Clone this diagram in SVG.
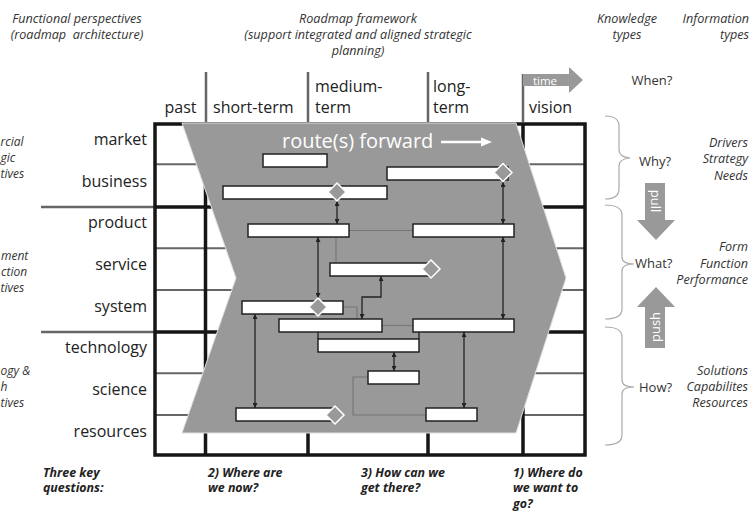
<svg xmlns="http://www.w3.org/2000/svg" width="753" height="511" viewBox="0 0 753 511">
  <style>
    text { font-family: "Open Sans", "Liberation Sans", sans-serif; fill: #222; }
    .hdr { font-size: 16px; }
    .row { font-size: 16px; text-anchor: end; }
    .it { font-size: 12.6px; font-style: italic; fill: #333; }
    .itr { font-size: 12.6px; font-style: italic; fill: #333; text-anchor: end; }
    .itl { font-size: 12px; font-style: italic; fill: #333; }
    .q { font-size: 13px; fill: #333; }
    .key { font-size: 12.4px; font-style: italic; font-weight: bold; fill: #222; }
    .wt { fill: #fff; }
    .thick { stroke: #151515; stroke-width: 3.5; fill: none; }
    .thin { stroke: #666; stroke-width: 2; fill: none; }
    .hline { stroke: #666; stroke-width: 2.5; fill: none; }
    .bar { fill: #fff; stroke: #222; stroke-width: 1.5; }
    .dia { fill: #999; stroke: #fff; stroke-width: 1.5; }
    .link { stroke: #222; stroke-width: 1.3; fill: none; }
    .arr { stroke: #222; stroke-width: 1.3; fill: none; marker-start: url(#ah); marker-end: url(#ah); }
    .soft { stroke: #777; stroke-width: 1.2; fill: none; }
    .brace { stroke: #aaa; stroke-width: 1.2; fill: none; }
  </style>
  <defs>
    <marker id="ah" viewBox="0 0 10 10" refX="10" refY="5" markerWidth="5" markerHeight="5" markerUnits="userSpaceOnUse" orient="auto-start-reverse">
      <path d="M0,0 L10,5 L0,10 z" fill="#222"/>
    </marker>
  </defs>

  <!-- titles -->
  <g id="titles">
    <text class="it" x="77" y="23" text-anchor="middle">Functional perspectives</text>
    <text class="it" x="77" y="39" text-anchor="middle">(roadmap&#160; architecture)</text>
    <text class="it" x="358" y="23" text-anchor="middle">Roadmap framework</text>
    <text class="it" x="358" y="39" text-anchor="middle">(support integrated and aligned strategic</text>
    <text class="it" x="358" y="55" text-anchor="middle">planning)</text>
    <text class="it" x="627" y="23" text-anchor="middle">Knowledge</text>
    <text class="it" x="627" y="39" text-anchor="middle">types</text>
    <text class="itr" x="749" y="23">Information</text>
    <text class="itr" x="749" y="39">types</text>
  </g>

  <!-- time header -->
  <g id="time-header">
    <line class="hline" x1="206" y1="72" x2="206" y2="122"/>
    <line class="hline" x1="308" y1="72" x2="308" y2="122"/>
    <line class="hline" x1="428" y1="72" x2="428" y2="122"/>
    <line class="hline" x1="523" y1="74" x2="523" y2="122"/>
    <polygon points="523,74 569,74 569,67 583,80 569,93 569,86 523,86" fill="#999"/>
    <text class="wt" x="545" y="84.5" font-size="11.5" text-anchor="middle">time</text>
    <text class="hdr" x="180.5" y="113" text-anchor="middle">past</text>
    <text class="hdr" x="213" y="113">short-term</text>
    <text class="hdr" x="315" y="92">medium-</text>
    <text class="hdr" x="315" y="113">term</text>
    <text class="hdr" x="433" y="92">long-</text>
    <text class="hdr" x="433" y="113">term</text>
    <text class="hdr" x="529" y="113">vision</text>
    <text class="q" x="652" y="85" text-anchor="middle">When?</text>
  </g>

  <!-- layer labels -->
  <g id="layers">
    <text class="row" x="147" y="145">market</text>
    <text class="row" x="147" y="187">business</text>
    <text class="row" x="147" y="228">product</text>
    <text class="row" x="147" y="270">service</text>
    <text class="row" x="147" y="312">system</text>
    <text class="row" x="147" y="353">technology</text>
    <text class="row" x="147" y="395">science</text>
    <text class="row" x="147" y="437">resources</text>
    <text class="itl" x="0.5" y="146">rcial</text>
    <text class="itl" x="0.5" y="162">gic</text>
    <text class="itl" x="0.5" y="178">tives</text>
    <text class="itl" x="1" y="260">ment</text>
    <text class="itl" x="1" y="276">ction</text>
    <text class="itl" x="0.5" y="292">tives</text>
    <text class="itl" x="0.5" y="375">ogy &amp;</text>
    <text class="itl" x="0.5" y="391">h</text>
    <text class="itl" x="0.5" y="407">tives</text>
    <line class="hline" x1="41" y1="207" x2="155" y2="207"/>
    <line class="hline" x1="41" y1="332" x2="155" y2="332"/>
  </g>

  <!-- roadmap grid -->
  <g id="grid">
    <line class="thin" x1="155" y1="164.3" x2="585" y2="164.3"/>
    <line class="thin" x1="155" y1="248.3" x2="585" y2="248.3"/>
    <line class="thin" x1="155" y1="290" x2="585" y2="290"/>
    <line class="thin" x1="155" y1="373.3" x2="585" y2="373.3"/>
    <line class="thin" x1="155" y1="415" x2="585" y2="415"/>
    <line class="thick" x1="155" y1="207" x2="585" y2="207"/>
    <line class="thick" x1="155" y1="332" x2="585" y2="332"/>
    <line class="thick" x1="205.5" y1="124" x2="205.5" y2="455"/>
    <line class="thick" x1="308" y1="124" x2="308" y2="455"/>
    <line class="thick" x1="428" y1="124" x2="428" y2="455"/>
    <line class="thick" x1="523" y1="124" x2="523" y2="455"/>
    <rect class="thick" x="155" y="124" width="430" height="331"/>
  </g>

  <!-- route forward chevron -->
  <g id="route">
    <polygon points="182,123 516,123 566,278 516,433 182,433 236,278" fill="#999" stroke="#dedede" stroke-width="1"/>
    <text class="wt" x="282" y="148" font-size="20">route(s) forward</text>
    <line x1="441" y1="142" x2="484" y2="142" stroke="#fff" stroke-width="2.7"/>
    <polygon points="481,137.5 492,142 481,146.5" fill="#fff"/>
  </g>

  <!-- connectors -->
  <g id="connectors">
    <path class="soft" d="M349,230.5 H413"/>
    <path class="soft" d="M336,237 V263"/>
    <path class="soft" d="M343,307 H357 V319"/>
    <path class="soft" d="M382,325.5 H413"/>
    <path class="soft" d="M368,377 H353 V415 H426"/>
    <path class="link" d="M318,332 V339"/>
    <path class="link" d="M419,332 V339"/>
    <path class="arr" d="M337,201 V224"/>
    <path class="arr" d="M503,182 V224"/>
    <path class="arr" d="M318,237 V298"/>
    <path class="arr" d="M381,276 V297 H362 V319"/>
    <path class="arr" d="M503,237 V319"/>
    <path class="arr" d="M255,314 V408"/>
    <path class="arr" d="M394,352 V371"/>
    <path class="arr" d="M464,332 V408"/>
  </g>

  <!-- activity bars -->
  <g id="bar-a"><rect class="bar" x="263" y="154" width="64" height="13"/></g>
  <g id="bar-b"><rect class="bar" x="387" y="167" width="121" height="13"/><polygon class="dia" points="503,163.5 512,172.5 503,181.5 494,172.5"/></g>
  <g id="bar-c"><rect class="bar" x="223" y="186" width="164" height="13"/><polygon class="dia" points="337,183 346,192 337,201 328,192"/></g>
  <g id="bar-d"><rect class="bar" x="248" y="224" width="101" height="13"/></g>
  <g id="bar-e"><rect class="bar" x="413" y="224" width="101" height="13"/></g>
  <g id="bar-f"><rect class="bar" x="330" y="263" width="100" height="13"/><polygon class="dia" points="431,260 440,269 431,278 422,269"/></g>
  <g id="bar-h"><rect class="bar" x="242" y="301" width="101" height="13"/><polygon class="dia" points="318,298 327,307 318,316 309,307"/></g>
  <g id="bar-g"><rect class="bar" x="279" y="319" width="103" height="13"/></g>
  <g id="bar-i"><rect class="bar" x="413" y="319" width="101" height="13"/></g>
  <g id="bar-j"><rect class="bar" x="318" y="339" width="101" height="13"/></g>
  <g id="bar-k"><rect class="bar" x="368" y="371" width="51" height="13"/></g>
  <g id="bar-l"><rect class="bar" x="236" y="408" width="96" height="13"/><polygon class="dia" points="335,406 344,415 335,424 326,415"/></g>
  <g id="bar-m"><rect class="bar" x="426" y="408" width="51" height="13"/></g>

  <!-- knowledge types -->
  <g id="why">
    <path class="brace" d="M605,116 Q619,116 619,126 V150 Q619,157 630,158 Q619,159 619,166 V189 Q619,199 605,199"/>
    <text class="q" x="639" y="166">Why?</text>
    <text class="itr" x="748" y="146.5">Drivers</text>
    <text class="itr" x="748" y="163">Strategy</text>
    <text class="itr" x="748" y="179.5">Needs</text>
  </g>
  <g id="what">
    <path class="brace" d="M605,205 Q622,205 622,215 V257 Q622,264 634,264 Q622,264 622,271 V309 Q622,319 605,319"/>
    <text class="q" x="635" y="268">What?</text>
    <text class="itr" x="748" y="251">Form</text>
    <text class="itr" x="748" y="267.5">Function</text>
    <text class="itr" x="748" y="284">Performance</text>
  </g>
  <g id="how">
    <path class="brace" d="M605,327 Q622,327 622,337 V380 Q622,387 634,387 Q622,387 622,394 V435 Q622,445 605,445"/>
    <text class="q" x="639" y="392">How?</text>
    <text class="itr" x="748" y="375">Solutions</text>
    <text class="itr" x="748" y="391">Capabilites</text>
    <text class="itr" x="748" y="407">Resources</text>
  </g>
  <g id="pull">
    <polygon points="645,183 665,183 665,220 675,220 656,240 637,220 645,220" fill="#999"/>
    <text class="wt" font-size="13" text-anchor="middle" transform="translate(651,201) rotate(90)">pull</text>
  </g>
  <g id="push">
    <polygon points="656,287 675,307 665,307 665,348 645,348 645,307 637,307" fill="#999"/>
    <text class="wt" font-size="13" text-anchor="middle" transform="translate(660,327) rotate(-90)">push</text>
  </g>

  <!-- key questions -->
  <g id="questions">
    <text class="key" x="43" y="476.5">Three key</text>
    <text class="key" x="43" y="492">questions:</text>
    <text class="key" x="208" y="476.5">2) Where are</text>
    <text class="key" x="208" y="492">we now?</text>
    <text class="key" x="361" y="476.5">3) How can we</text>
    <text class="key" x="361" y="492">get there?</text>
    <text class="key" x="513" y="476.5">1) Where do</text>
    <text class="key" x="513" y="492">we want to</text>
    <text class="key" x="513" y="507.5">go?</text>
  </g>
</svg>
